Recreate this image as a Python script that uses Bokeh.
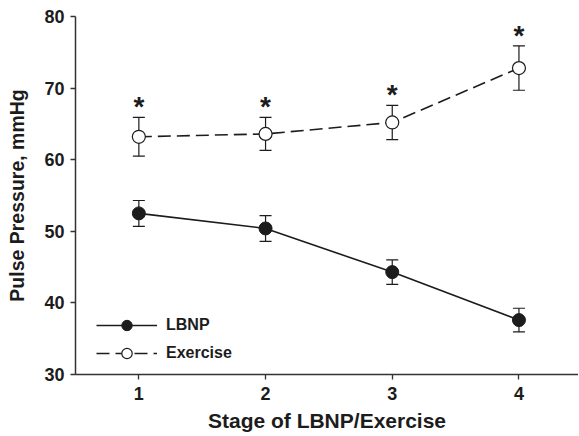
from bokeh.plotting import figure
from bokeh.models import ColumnDataSource, Whisker, TeeHead, Legend, LegendItem, FixedTicker, Range1d
from bokeh.core.properties import value
from bokeh.embed import file_html
from bokeh.resources import INLINE

stages = [1, 2, 3, 4]
lbnp_mean = [52.5, 50.4, 44.3, 37.6]
lbnp_se = [1.8, 1.8, 1.7, 1.65]
exercise_mean = [63.2, 63.6, 65.2, 72.8]
exercise_se = [2.7, 2.3, 2.4, 3.1]
sig_marks = ["*", "*", "*", "*"]
y_ticks = [30, 40, 50, 60, 70, 80]

FONT = "Liberation Sans"
INK = "#1c1c1c"

lb = ColumnDataSource(dict(
    x=stages, y=lbnp_mean,
    lo=[m - s for m, s in zip(lbnp_mean, lbnp_se)],
    hi=[m + s for m, s in zip(lbnp_mean, lbnp_se)],
))
ex = ColumnDataSource(dict(
    x=stages, y=exercise_mean,
    lo=[m - s for m, s in zip(exercise_mean, exercise_se)],
    hi=[m + s for m, s in zip(exercise_mean, exercise_se)],
    star_y=[m + s + 1.5 for m, s in zip(exercise_mean, exercise_se)],
    star=sig_marks,
))

p = figure(width=578, height=435, output_backend="svg", toolbar_location=None,
           x_range=Range1d(0.5, 4.47), y_range=Range1d(30, 80),
           min_border_left=75, min_border_right=0, min_border_top=16, min_border_bottom=61)
p.outline_line_color = None
p.xgrid.visible = False
p.ygrid.visible = False
p.background_fill_color = "white"

for src in (lb, ex):
    w = Whisker(source=src, base="x", lower="lo", upper="hi",
                line_color=INK, line_width=1.2, level="underlay",
                upper_head=TeeHead(size=12, line_color=INK, line_width=1.2),
                lower_head=TeeHead(size=12, line_color=INK, line_width=1.2))
    p.add_layout(w)

l1 = p.line("x", "y", source=lb, line_color=INK, line_width=1.6)
s1 = p.scatter("x", "y", source=lb, size=13, fill_color=INK, line_color=INK)
l2 = p.line("x", "y", source=ex, line_color=INK, line_width=1.6, line_dash="13 6")
s2 = p.scatter("x", "y", source=ex, size=13, fill_color="white", line_color=INK, line_width=1.2)

p.text("x", "star_y", text="star", source=ex, text_align="center", text_baseline="alphabetic",
       text_font=value(FONT), text_font_style="bold", text_font_size="28px", text_color=INK)

legend = Legend(items=[LegendItem(label="LBNP", renderers=[l1, s1]),
                       LegendItem(label="Exercise", renderers=[l2, s2])],
                location=(21, 8), padding=0, margin=0, spacing=2,
                glyph_width=61, glyph_height=26, label_height=20, label_standoff=9,
                label_text_font=FONT, label_text_font_style="bold", label_text_font_size="16px",
                label_text_color=INK, border_line_color=None, background_fill_alpha=0)
p.add_layout(legend)

for ax in (p.xaxis[0], p.yaxis[0]):
    ax.axis_line_color = "#333333"
    ax.axis_line_width = 1.5
    ax.major_tick_line_color = "#333333"
    ax.major_tick_line_width = 1.3
    ax.major_tick_out = 5
    ax.major_tick_in = 0
    ax.minor_tick_line_color = None
    ax.major_label_text_font = FONT
    ax.major_label_text_font_style = "bold"
    ax.major_label_text_font_size = "18px"
    ax.major_label_text_color = INK
    ax.axis_label_text_font = FONT
    ax.axis_label_text_font_style = "bold"
    ax.axis_label_text_color = INK

p.xaxis.ticker = FixedTicker(ticks=stages)
p.yaxis.ticker = FixedTicker(ticks=y_ticks)
p.xaxis.axis_label = "Stage of LBNP/Exercise"
p.yaxis.axis_label = "Pulse Pressure, mmHg"
p.xaxis.axis_label_text_font_size = "21px"
p.yaxis.axis_label_text_font_size = "19.5px"
p.xaxis.major_label_standoff = 7
p.yaxis.major_label_standoff = 6
p.xaxis.axis_label_standoff = 6
p.yaxis.axis_label_standoff = 13

open("out.html", "w").write(file_html(p, INLINE))
